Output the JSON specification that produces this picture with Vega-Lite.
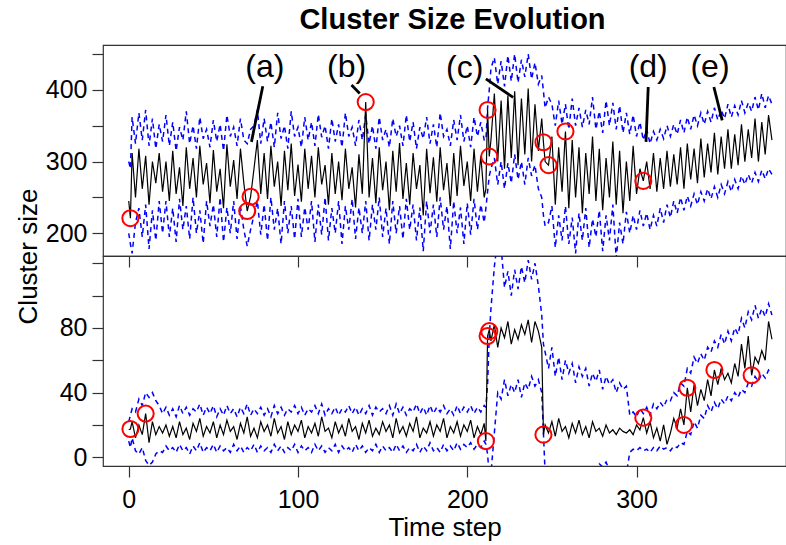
{
"$schema": "https://vega.github.io/schema/vega-lite/v6.json",
"padding": {"left": 14, "top": 5, "right": 0, "bottom": 5},
"background": "white",
"spacing": 0,
"bounds": "flush",
"config": {
  "view": {"stroke": "#333333", "strokeWidth": 1.2},
  "font": "Liberation Sans",
  "axis": {"labelFont": "Liberation Sans", "titleFont": "Liberation Sans", "labelColor": "black", "titleColor": "black", "tickColor": "#333333", "tickWidth": 1.2, "grid": false, "domain": false}
},
"datasets": {
"s": [
{"t":0,"a":245,"au":300,"al":200,"b":17,"bu":22,"bl":10},
{"t":1,"a":221,"au":290,"al":185,"b":17.5,"bu":26,"bl":6},
{"t":2,"a":312,"au":362,"al":172,"b":22,"bu":30,"bl":12},
{"t":4,"a":250,"au":325,"al":215,"b":12,"bu":28,"bl":4},
{"t":6,"a":318,"au":368,"al":235,"b":20,"bu":36,"bl":2},
{"t":8,"a":262,"au":330,"al":195,"b":14,"bu":32,"bl":6},
{"t":10,"a":308,"au":372,"al":240,"b":27,"bu":40,"bl":-2},
{"t":12,"a":240,"au":322,"al":178,"b":9,"bu":37,"bl":-5},
{"t":14,"a":300,"au":360,"al":232,"b":22,"bu":40,"bl":-3},
{"t":16,"a":270,"au":318,"al":190,"b":14,"bu":35,"bl":2},
{"t":18,"a":312,"au":352,"al":245,"b":19,"bu":32,"bl":4},
{"t":20,"a":258,"au":328,"al":200,"b":15,"bu":27,"bl":3},
{"t":22,"a":300,"au":365,"al":245,"b":20,"bu":31,"bl":7},
{"t":24,"a":245,"au":322,"al":195,"b":13,"bu":26,"bl":4},
{"t":26,"a":315,"au":355,"al":235,"b":19,"bu":30,"bl":6},
{"t":28,"a":255,"au":315,"al":188,"b":12,"bu":25,"bl":3},
{"t":30,"a":292,"au":348,"al":248,"b":22,"bu":32,"bl":8},
{"t":32,"a":238,"au":330,"al":205,"b":14,"bu":27,"bl":4},
{"t":34,"a":320,"au":370,"al":238,"b":18,"bu":31,"bl":6},
{"t":36,"a":262,"au":325,"al":192,"b":11,"bu":26,"bl":2},
{"t":38,"a":305,"au":350,"al":250,"b":21,"bu":30,"bl":7},
{"t":40,"a":250,"au":318,"al":200,"b":16,"bu":28,"bl":4},
{"t":42,"a":322,"au":362,"al":232,"b":24,"bu":33,"bl":9},
{"t":44,"a":268,"au":332,"al":186,"b":13,"bu":26,"bl":3},
{"t":46,"a":298,"au":345,"al":245,"b":19,"bu":31,"bl":6},
{"t":48,"a":242,"au":320,"al":210,"b":15,"bu":27,"bl":4},
{"t":50,"a":316,"au":358,"al":240,"b":22,"bu":32,"bl":8},
{"t":52,"a":258,"au":328,"al":195,"b":12,"bu":25,"bl":3},
{"t":54,"a":290,"au":352,"al":250,"b":20,"bu":30,"bl":7},
{"t":56,"a":235,"au":315,"al":188,"b":14,"bu":26,"bl":4},
{"t":58,"a":324,"au":365,"al":236,"b":23,"bu":32,"bl":6},
{"t":60,"a":265,"au":335,"al":200,"b":16,"bu":27,"bl":3},
{"t":62,"a":302,"au":348,"al":245,"b":19,"bu":30,"bl":8},
{"t":64,"a":248,"au":322,"al":192,"b":11,"bu":25,"bl":4},
{"t":66,"a":318,"au":360,"al":238,"b":21,"bu":31,"bl":7},
{"t":68,"a":270,"au":330,"al":205,"b":15,"bu":27,"bl":3},
{"t":70,"a":231,"au":325,"al":182,"b":25,"bu":33,"bl":6},
{"t":72,"a":251,"au":345,"al":205,"b":13,"bu":26,"bl":4},
{"t":74,"a":290,"au":350,"al":225,"b":18,"bu":30,"bl":8},
{"t":76,"a":330,"au":372,"al":245,"b":12,"bu":27,"bl":3},
{"t":78,"a":255,"au":325,"al":198,"b":22,"bu":31,"bl":7},
{"t":80,"a":312,"au":360,"al":240,"b":16,"bu":26,"bl":4},
{"t":82,"a":248,"au":328,"al":190,"b":20,"bu":30,"bl":6},
{"t":84,"a":322,"au":355,"al":250,"b":13,"bu":25,"bl":3},
{"t":86,"a":265,"au":320,"al":205,"b":24,"bu":32,"bl":8},
{"t":88,"a":300,"au":368,"al":235,"b":15,"bu":27,"bl":4},
{"t":90,"a":238,"au":332,"al":185,"b":19,"bu":31,"bl":7},
{"t":92,"a":315,"au":350,"al":245,"b":11,"bu":26,"bl":3},
{"t":94,"a":260,"au":318,"al":200,"b":22,"bu":30,"bl":6},
{"t":96,"a":325,"au":370,"al":238,"b":14,"bu":28,"bl":4},
{"t":98,"a":252,"au":335,"al":192,"b":20,"bu":32,"bl":8},
{"t":100,"a":296,"au":348,"al":248,"b":16,"bu":27,"bl":3},
{"t":102,"a":244,"au":320,"al":195,"b":23,"bu":31,"bl":7},
{"t":104,"a":318,"au":362,"al":236,"b":12,"bu":26,"bl":4},
{"t":106,"a":262,"au":330,"al":205,"b":19,"bu":30,"bl":6},
{"t":108,"a":308,"au":355,"al":245,"b":15,"bu":28,"bl":3},
{"t":110,"a":250,"au":322,"al":188,"b":21,"bu":32,"bl":8},
{"t":112,"a":320,"au":366,"al":240,"b":13,"bu":27,"bl":4},
{"t":114,"a":268,"au":334,"al":198,"b":25,"bu":33,"bl":7},
{"t":116,"a":295,"au":350,"al":250,"b":16,"bu":26,"bl":3},
{"t":118,"a":240,"au":318,"al":190,"b":18,"bu":30,"bl":6},
{"t":120,"a":312,"au":360,"al":235,"b":12,"bu":27,"bl":4},
{"t":122,"a":255,"au":328,"al":200,"b":22,"bu":31,"bl":8},
{"t":124,"a":300,"au":352,"al":245,"b":15,"bu":26,"bl":3},
{"t":126,"a":246,"au":320,"al":185,"b":20,"bu":30,"bl":7},
{"t":128,"a":318,"au":368,"al":238,"b":13,"bu":28,"bl":4},
{"t":130,"a":262,"au":335,"al":205,"b":24,"bu":32,"bl":6},
{"t":132,"a":292,"au":348,"al":248,"b":16,"bu":27,"bl":3},
{"t":134,"a":236,"au":322,"al":192,"b":19,"bu":31,"bl":8},
{"t":136,"a":310,"au":358,"al":236,"b":11,"bu":26,"bl":4},
{"t":138,"a":255,"au":330,"al":200,"b":21,"bu":30,"bl":7},
{"t":140,"a":383,"au":365,"al":245,"b":15,"bu":27,"bl":3},
{"t":142,"a":250,"au":325,"al":190,"b":23,"bu":32,"bl":6},
{"t":144,"a":305,"au":350,"al":240,"b":13,"bu":26,"bl":4},
{"t":146,"a":242,"au":318,"al":205,"b":18,"bu":31,"bl":8},
{"t":148,"a":320,"au":362,"al":250,"b":14,"bu":28,"bl":3},
{"t":150,"a":260,"au":330,"al":195,"b":22,"bu":30,"bl":7},
{"t":152,"a":300,"au":345,"al":235,"b":16,"bu":27,"bl":4},
{"t":154,"a":232,"au":320,"al":185,"b":20,"bu":32,"bl":6},
{"t":156,"a":315,"au":360,"al":245,"b":12,"bu":26,"bl":3},
{"t":158,"a":258,"au":335,"al":200,"b":24,"bu":33,"bl":8},
{"t":160,"a":326,"au":350,"al":238,"b":15,"bu":27,"bl":4},
{"t":162,"a":248,"au":322,"al":192,"b":19,"bu":31,"bl":7},
{"t":164,"a":298,"au":365,"al":248,"b":13,"bu":26,"bl":3},
{"t":166,"a":240,"au":328,"al":205,"b":21,"bu":30,"bl":6},
{"t":168,"a":312,"au":355,"al":240,"b":16,"bu":28,"bl":4},
{"t":170,"a":262,"au":318,"al":190,"b":25,"bu":33,"bl":8},
{"t":172,"a":295,"au":348,"al":236,"b":12,"bu":27,"bl":3},
{"t":174,"a":225,"au":332,"al":175,"b":18,"bu":31,"bl":7},
{"t":176,"a":318,"au":362,"al":245,"b":15,"bu":26,"bl":4},
{"t":178,"a":256,"au":325,"al":200,"b":22,"bu":32,"bl":9},
{"t":180,"a":306,"au":352,"al":240,"b":13,"bu":27,"bl":4},
{"t":182,"a":244,"au":320,"al":195,"b":20,"bu":31,"bl":6},
{"t":184,"a":320,"au":368,"al":250,"b":16,"bu":28,"bl":3},
{"t":186,"a":260,"au":335,"al":205,"b":24,"bu":32,"bl":8},
{"t":188,"a":298,"au":345,"al":238,"b":12,"bu":27,"bl":4},
{"t":190,"a":238,"au":322,"al":178,"b":19,"bu":30,"bl":7},
{"t":192,"a":312,"au":358,"al":245,"b":15,"bu":26,"bl":4},
{"t":194,"a":252,"au":330,"al":200,"b":22,"bu":32,"bl":9},
{"t":196,"a":322,"au":365,"al":236,"b":13,"bu":27,"bl":5},
{"t":198,"a":266,"au":328,"al":185,"b":20,"bu":31,"bl":8},
{"t":200,"a":300,"au":350,"al":242,"b":16,"bu":28,"bl":6},
{"t":202,"a":245,"au":320,"al":198,"b":23,"bu":32,"bl":9},
{"t":204,"a":318,"au":362,"al":248,"b":12,"bu":27,"bl":5},
{"t":206,"a":258,"au":335,"al":205,"b":19,"bu":31,"bl":8},
{"t":208,"a":308,"au":355,"al":240,"b":14,"bu":28,"bl":6},
{"t":210,"a":250,"au":330,"al":215,"b":21,"bu":32,"bl":10},
{"t":211,"a":262,"au":330,"al":235,"b":10,"bu":31,"bl":8},
{"t":212,"a":372,"au":375,"al":258,"b":75,"bu":45,"bl":2},
{"t":213,"a":307,"au":400,"al":280,"b":79,"bu":75,"bl":-12},
{"t":214,"a":330,"au":430,"al":290,"b":72,"bu":92,"bl":-10},
{"t":216,"a":395,"au":445,"al":305,"b":82,"bu":118,"bl":15},
{"t":218,"a":300,"au":408,"al":268,"b":68,"bu":135,"bl":40},
{"t":220,"a":385,"au":440,"al":300,"b":80,"bu":130,"bl":36},
{"t":222,"a":290,"au":405,"al":262,"b":74,"bu":105,"bl":48},
{"t":224,"a":392,"au":448,"al":298,"b":84,"bu":115,"bl":38},
{"t":226,"a":305,"au":412,"al":270,"b":70,"bu":100,"bl":45},
{"t":228,"a":398,"au":450,"al":310,"b":79,"bu":116,"bl":40},
{"t":230,"a":295,"au":410,"al":275,"b":73,"bu":104,"bl":48},
{"t":232,"a":388,"au":442,"al":300,"b":82,"bu":118,"bl":37},
{"t":234,"a":310,"au":418,"al":268,"b":76,"bu":108,"bl":46},
{"t":236,"a":402,"au":450,"al":305,"b":85,"bu":122,"bl":42},
{"t":238,"a":300,"au":415,"al":280,"b":71,"bu":110,"bl":50},
{"t":240,"a":380,"au":438,"al":295,"b":84,"bu":120,"bl":44},
{"t":242,"a":315,"au":408,"al":262,"b":78,"bu":106,"bl":48},
{"t":244,"a":360,"au":420,"al":250,"b":68,"bu":88,"bl":40},
{"t":245,"a":327,"au":398,"al":225,"b":14,"bu":70,"bl":15},
{"t":246,"a":300,"au":375,"al":210,"b":20,"bu":65,"bl":-10},
{"t":248,"a":295,"au":390,"al":215,"b":15,"bu":55,"bl":-10},
{"t":250,"a":335,"au":380,"al":238,"b":22,"bu":68,"bl":-9},
{"t":252,"a":240,"au":350,"al":180,"b":13,"bu":50,"bl":-10},
{"t":254,"a":320,"au":385,"al":225,"b":24,"bu":62,"bl":-8},
{"t":256,"a":258,"au":352,"al":190,"b":16,"bu":48,"bl":-10},
{"t":258,"a":342,"au":380,"al":238,"b":19,"bu":60,"bl":-9},
{"t":260,"a":235,"au":345,"al":185,"b":12,"bu":52,"bl":-10},
{"t":262,"a":330,"au":388,"al":222,"b":21,"bu":58,"bl":-7},
{"t":264,"a":250,"au":350,"al":172,"b":15,"bu":46,"bl":-10},
{"t":266,"a":320,"au":375,"al":228,"b":23,"bu":56,"bl":-8},
{"t":268,"a":228,"au":348,"al":190,"b":14,"bu":50,"bl":-10},
{"t":270,"a":312,"au":372,"al":235,"b":19,"bu":55,"bl":-9},
{"t":272,"a":255,"au":352,"al":180,"b":12,"bu":44,"bl":-10},
{"t":274,"a":335,"au":390,"al":220,"b":22,"bu":52,"bl":-8},
{"t":276,"a":245,"au":345,"al":195,"b":16,"bu":47,"bl":-10},
{"t":278,"a":318,"au":370,"al":232,"b":18,"bu":54,"bl":-4},
{"t":280,"a":232,"au":340,"al":175,"b":13,"bu":42,"bl":-6},
{"t":282,"a":305,"au":385,"al":225,"b":20,"bu":50,"bl":-3},
{"t":284,"a":250,"au":350,"al":190,"b":15,"bu":45,"bl":-8},
{"t":286,"a":328,"au":382,"al":240,"b":17,"bu":48,"bl":-10},
{"t":288,"a":240,"au":345,"al":165,"b":14,"bu":40,"bl":-9},
{"t":290,"a":315,"au":378,"al":215,"b":18,"bu":46,"bl":-10},
{"t":292,"a":228,"au":340,"al":185,"b":16,"bu":42,"bl":-8},
{"t":294,"a":300,"au":368,"al":230,"b":15,"bu":44,"bl":-10},
{"t":296,"a":245,"au":338,"al":200,"b":17,"bu":26,"bl":3},
{"t":298,"a":322,"au":365,"al":225,"b":14,"bu":28,"bl":5},
{"t":300,"a":255,"au":335,"al":205,"b":20,"bu":25,"bl":4},
{"t":302,"a":290,"au":355,"al":232,"b":17,"bu":30,"bl":6},
{"t":304,"a":273,"au":330,"al":210,"b":24.5,"bu":27,"bl":4},
{"t":306,"a":300,"au":345,"al":228,"b":15,"bu":31,"bl":5},
{"t":308,"a":262,"au":325,"al":205,"b":22,"bu":26,"bl":3},
{"t":310,"a":312,"au":342,"al":225,"b":12,"bu":33,"bl":6},
{"t":312,"a":258,"au":330,"al":210,"b":18,"bu":30,"bl":4},
{"t":314,"a":305,"au":345,"al":235,"b":10,"bu":34,"bl":7},
{"t":316,"a":262,"au":332,"al":215,"b":20,"bu":31,"bl":5},
{"t":318,"a":315,"au":350,"al":240,"b":8,"bu":36,"bl":6},
{"t":320,"a":265,"au":335,"al":222,"b":15,"bu":35,"bl":4},
{"t":322,"a":310,"au":352,"al":245,"b":24,"bu":40,"bl":7},
{"t":324,"a":268,"au":338,"al":228,"b":18,"bu":38,"bl":6},
{"t":326,"a":320,"au":358,"al":250,"b":30,"bu":46,"bl":9},
{"t":328,"a":262,"au":340,"al":232,"b":20,"bu":44,"bl":8},
{"t":330,"a":325,"au":362,"al":252,"b":43,"bu":55,"bl":16},
{"t":332,"a":275,"au":345,"al":238,"b":28,"bu":52,"bl":14},
{"t":334,"a":318,"au":365,"al":255,"b":45,"bu":62,"bl":22},
{"t":336,"a":270,"au":350,"al":240,"b":32,"bu":58,"bl":18},
{"t":338,"a":332,"au":368,"al":258,"b":42,"bu":64,"bl":26},
{"t":340,"a":278,"au":352,"al":245,"b":35,"bu":60,"bl":24},
{"t":342,"a":325,"au":370,"al":262,"b":48,"bu":68,"bl":32},
{"t":344,"a":285,"au":355,"al":248,"b":38,"bu":65,"bl":28},
{"t":346,"a":340,"au":375,"al":265,"b":54,"bu":72,"bl":34},
{"t":348,"a":282,"au":358,"al":250,"b":45,"bu":68,"bl":30},
{"t":350,"a":335,"au":372,"al":268,"b":55,"bu":76,"bl":36},
{"t":352,"a":290,"au":360,"al":255,"b":48,"bu":70,"bl":33},
{"t":354,"a":345,"au":380,"al":272,"b":52,"bu":78,"bl":38},
{"t":356,"a":290,"au":362,"al":258,"b":46,"bu":72,"bl":35},
{"t":358,"a":338,"au":378,"al":275,"b":58,"bu":80,"bl":40},
{"t":360,"a":295,"au":365,"al":262,"b":50,"bu":76,"bl":37},
{"t":362,"a":352,"au":385,"al":280,"b":70,"bu":86,"bl":42},
{"t":364,"a":300,"au":368,"al":268,"b":55,"bu":80,"bl":40},
{"t":366,"a":345,"au":382,"al":282,"b":75,"bu":90,"bl":46},
{"t":368,"a":305,"au":370,"al":270,"b":50.7,"bu":85,"bl":44},
{"t":370,"a":360,"au":390,"al":285,"b":62,"bu":94,"bl":50},
{"t":372,"a":300,"au":372,"al":272,"b":58,"bu":86,"bl":47},
{"t":374,"a":355,"au":395,"al":288,"b":66,"bu":92,"bl":52},
{"t":376,"a":310,"au":375,"al":276,"b":60,"bu":87,"bl":49},
{"t":378,"a":365,"au":392,"al":290,"b":84,"bu":95,"bl":54},
{"t":380,"a":330,"au":380,"al":282,"b":73,"bu":88,"bl":52}
],
"ct": [
{"t":1,"v":221},{"t":70,"v":231},{"t":72,"v":251},{"t":140,"v":383},{"t":212,"v":372},{"t":213,"v":307},{"t":245,"v":327},{"t":248,"v":295},{"t":258,"v":342},{"t":304,"v":273}
],
"cb": [
{"t":1,"v":17.5},{"t":10,"v":27},{"t":211,"v":10},{"t":212,"v":75},{"t":213,"v":78},{"t":245,"v":14},{"t":304,"v":24.5},{"t":328,"v":20},{"t":330,"v":43},{"t":346,"v":54},{"t":368,"v":50.7}
],
"annl": [
{"t":79.2,"v":405,"t2":72.5,"v2":327.5},
{"t":131.6,"v":406.7,"t2":136.5,"v2":395},
{"t":211,"v":415.4,"t2":227.1,"v2":389.5},
{"t":306.9,"v":404,"t2":305.6,"v2":327.5},
{"t":345.7,"v":404,"t2":350.6,"v2":357.5}
],
"annt": [
{"t":80.4,"v":432,"lab":"(a)"},
{"t":128.7,"v":432,"lab":"(b)"},
{"t":198.5,"v":430,"lab":"(c)"},
{"t":306.9,"v":432,"lab":"(d)"},
{"t":343.4,"v":432,"lab":"(e)"}
]
},
"vconcat": [
{
  "width": 683,
  "height": 211,
  "title": {"text": "Cluster Size Evolution", "fontSize": 29, "fontWeight": "bold", "font": "Liberation Sans", "color": "black", "frame": "group", "anchor": "middle", "offset": 10, "dx": 8},
  "encoding": {
    "x": {"field": "t", "type": "quantitative", "scale": {"domain": [-15.2, 388.3], "nice": false, "zero": false},
          "axis": {"values": [0, 100, 200, 300], "labels": false, "tickSize": 11, "title": null}},
    "y": {"field": "v", "type": "quantitative", "scale": {"domain": [168.3, 462.6], "nice": false, "zero": false},
          "axis": {"values": [200, 250, 300, 350, 400, 450], "labelExpr": "datum.value % 100 === 0 ? datum.label : ''", "tickSize": 11, "labelFontSize": 25, "labelPadding": 5,
                   "title": "Cluster size", "titleFontSize": 26, "titleFontWeight": "normal", "titleAngle": -90, "titleX": -75, "titleY": 211, "titleBaseline": "middle", "titleAlign": "center"}}
  },
  "layer": [
    {"data": {"name": "s"}, "transform": [{"fold": ["au"], "as": ["k", "v"]}],
     "mark": {"type": "line", "color": "#0000FF", "strokeWidth": 1.5, "strokeDash": [5, 4], "clip": true}},
    {"data": {"name": "s"}, "transform": [{"fold": ["al"], "as": ["k", "v"]}],
     "mark": {"type": "line", "color": "#0000FF", "strokeWidth": 1.5, "strokeDash": [5, 4], "clip": true}},
    {"data": {"name": "s"}, "transform": [{"fold": ["a"], "as": ["k", "v"]}],
     "mark": {"type": "line", "color": "#000000", "strokeWidth": 1.2, "clip": true}},
    {"data": {"name": "ct"},
     "mark": {"type": "point", "shape": "circle", "filled": false, "color": "#FF0000", "strokeWidth": 2, "size": 260, "opacity": 1}},
    {"data": {"name": "annl"},
     "mark": {"type": "rule", "color": "#000000", "strokeWidth": 2.8},
     "encoding": {"x2": {"field": "t2"}, "y2": {"field": "v2"}}},
    {"data": {"name": "annt"},
     "mark": {"type": "text", "fontSize": 32, "font": "Liberation Sans", "color": "#000000", "align": "center", "baseline": "middle"},
     "encoding": {"text": {"field": "lab"}}}
  ]
},
{
  "width": 683,
  "height": 210,
  "encoding": {
    "x": {"field": "t", "type": "quantitative", "scale": {"domain": [-15.2, 388.3], "nice": false, "zero": false},
          "axis": {"values": [0, 100, 200, 300], "tickSize": 11, "labelFontSize": 25, "labelPadding": 10, "title": "Time step", "titleFontSize": 26, "titleFontWeight": "normal", "titlePadding": 2}},
    "y": {"field": "v", "type": "quantitative", "scale": {"domain": [-5.4, 124.5], "nice": false, "zero": false},
          "axis": {"values": [0, 20, 40, 60, 80, 100, 120], "labelExpr": "datum.value === 0 || datum.value === 40 || datum.value === 80 ? datum.label : ''", "tickSize": 11, "labelFontSize": 25, "labelPadding": 5, "title": null}}
  },
  "layer": [
    {"data": {"name": "s"}, "transform": [{"fold": ["bu"], "as": ["k", "v"]}],
     "mark": {"type": "line", "color": "#0000FF", "strokeWidth": 1.5, "strokeDash": [5, 4], "clip": true}},
    {"data": {"name": "s"}, "transform": [{"fold": ["bl"], "as": ["k", "v"]}],
     "mark": {"type": "line", "color": "#0000FF", "strokeWidth": 1.5, "strokeDash": [5, 4], "clip": true}},
    {"data": {"name": "s"}, "transform": [{"fold": ["b"], "as": ["k", "v"]}],
     "mark": {"type": "line", "color": "#000000", "strokeWidth": 1.2, "clip": true}},
    {"data": {"name": "cb"},
     "mark": {"type": "point", "shape": "circle", "filled": false, "color": "#FF0000", "strokeWidth": 2, "size": 260, "opacity": 1}}
  ]
}
]
}
